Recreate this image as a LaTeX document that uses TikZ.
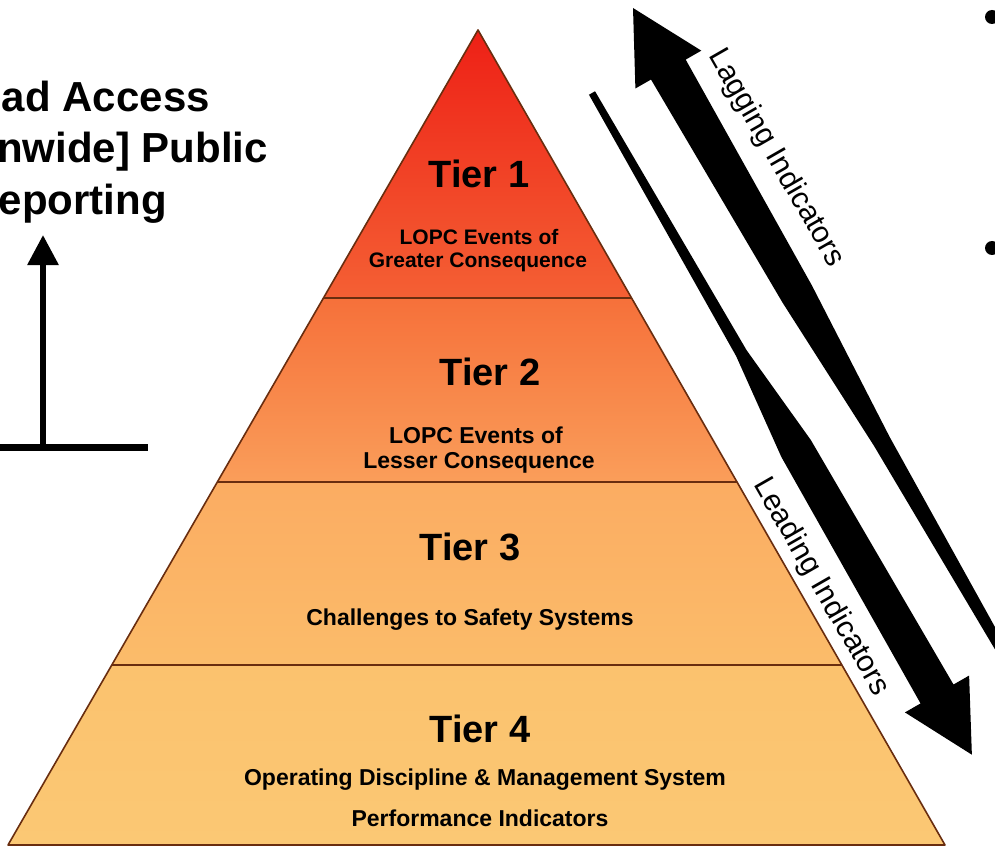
\documentclass[tikz,border=0pt]{standalone}
\usepackage{fontspec}
\setmainfont{Liberation Sans}
\usetikzlibrary{arrows.meta,calc}

\definecolor{edgebrown}{RGB}{105,45,15}
\definecolor{tonetop}{RGB}{238,32,22}
\definecolor{tonebot}{RGB}{244,96,52}
\definecolor{ttwotop}{RGB}{246,112,58}
\definecolor{ttwobot}{RGB}{250,158,90}
\definecolor{tthreetop}{RGB}{251,172,98}
\definecolor{tthreebot}{RGB}{251,188,106}
\definecolor{tfourtop}{RGB}{251,194,110}
\definecolor{tfourbot}{RGB}{251,200,116}

\begin{document}
\begin{tikzpicture}[x=1pt,y=-1pt,
        tierline/.style={draw=edgebrown,line width=1.6pt},
        tiername/.style={anchor=base,font=\bfseries\fontsize{38}{40}\selectfont},
        tiertext/.style={anchor=base,font=\bfseries\fontsize{23}{25}\selectfont},
        sidetext/.style={anchor=base east,inner sep=0pt,font=\bfseries\fontsize{42}{46}\selectfont},
        indtext/.style={rotate=-60.14,font=\fontsize{30}{32}\selectfont}]
    \useasboundingbox (0,0) rectangle (995,850);
    \clip (0,0) rectangle (995,850);

    % pyramid corners and tier borders
    \coordinate (apex) at (478,30);
    \coordinate (bl) at (8,845);
    \coordinate (br) at (945,845);
    \coordinate (l1) at ($(apex)!0.3288!(bl)$);
    \coordinate (r1) at ($(apex)!0.3288!(br)$);
    \coordinate (l2) at ($(apex)!0.5546!(bl)$);
    \coordinate (r2) at ($(apex)!0.5546!(br)$);
    \coordinate (l3) at ($(apex)!0.7791!(bl)$);
    \coordinate (r3) at ($(apex)!0.7791!(br)$);

    \shade[top color=tonetop,bottom color=tonebot] (apex) -- (r1) -- (l1) -- cycle;
    \shade[top color=ttwotop,bottom color=ttwobot] (l1) -- (r1) -- (r2) -- (l2) -- cycle;
    \shade[top color=tthreetop,bottom color=tthreebot] (l2) -- (r2) -- (r3) -- (l3) -- cycle;
    \shade[top color=tfourtop,bottom color=tfourbot] (l3) -- (r3) -- (br) -- (bl) -- cycle;
    \draw[tierline] (l1) -- (r1);
    \draw[tierline] (l2) -- (r2);
    \draw[tierline] (l3) -- (r3);
    \draw[tierline,line join=round] (apex) -- (br) -- (bl) -- cycle;

    % tier labels
    \node[tiername] (t1) at (479,188) {Tier 1};
    \node[tiertext,font=\bfseries\fontsize{21}{23}\selectfont] (t1a) at (479,245) {LOPC Events of};
    \node[tiertext,font=\bfseries\fontsize{21}{23}\selectfont] (t1b) at (478,267) {Greater Consequence};
    \node[tiername] (t2) at (490,385) {Tier 2};
    \node[tiertext] (t2a) at (476,443) {LOPC Events of};
    \node[tiertext] (t2b) at (479,468) {Lesser Consequence};
    \node[tiername] (t3) at (470,560) {Tier 3};
    \node[tiertext] (t3a) at (470,625) {Challenges to Safety Systems};
    \node[tiername] (t4) at (480,742) {Tier 4};
    \node[tiertext] (t4a) at (485,785) {Operating Discipline \& Management System};
    \node[tiertext] (t4b) at (480,826) {Performance Indicators};

    % left: reporting
    \node[sidetext] (acc) at (210,112) {ad Access};
    \node[sidetext] (pub) at (268,163) {nwide] Public};
    \node[sidetext] (rep) at (167,215) {eporting};
    \coordinate (barl) at (-5,447);
    \coordinate (barr) at (148,447);
    \coordinate (foot) at (43,447);
    \coordinate (tip) at (43,235);
    \draw[line width=7pt] (barl) -- (barr);
    \draw[line width=6pt,-{Triangle[width=30pt,length=30pt]}] (foot) -- (tip);

    % lagging arrow (points up)
    \begin{scope}[shift={(633,8)},rotate=-60.14]
        \fill (0,0) -- (71,38) -- (71,20) -- (330,17) -- (500,9) -- (830,4)
            -- (830,-4) -- (500,-9) -- (330,-17) -- (71,-20) -- (71,-38) -- cycle;
    \end{scope}
    % leading arrow (points down)
    \begin{scope}[shift={(592,93)},rotate=-60.14]
        \fill (0,3.5) -- (300,6) -- (410,17) -- (693,19) -- (693,37) -- (763,0)
            -- (693,-37) -- (693,-19) -- (410,-17) -- (300,-6) -- (0,-3.5) -- cycle;
    \end{scope}
    \node[indtext] (lag) at (776,158) {Lagging Indicators};
    \node[indtext] (lead) at (821,587) {Leading Indicators};

    % bullets at the right edge
    \node[circle,fill,inner sep=0pt,minimum size=14pt] (dot1) at (992,17) {};
    \node[circle,fill,inner sep=0pt,minimum size=14pt] (dot2) at (992,248) {};
\end{tikzpicture}
\end{document}
